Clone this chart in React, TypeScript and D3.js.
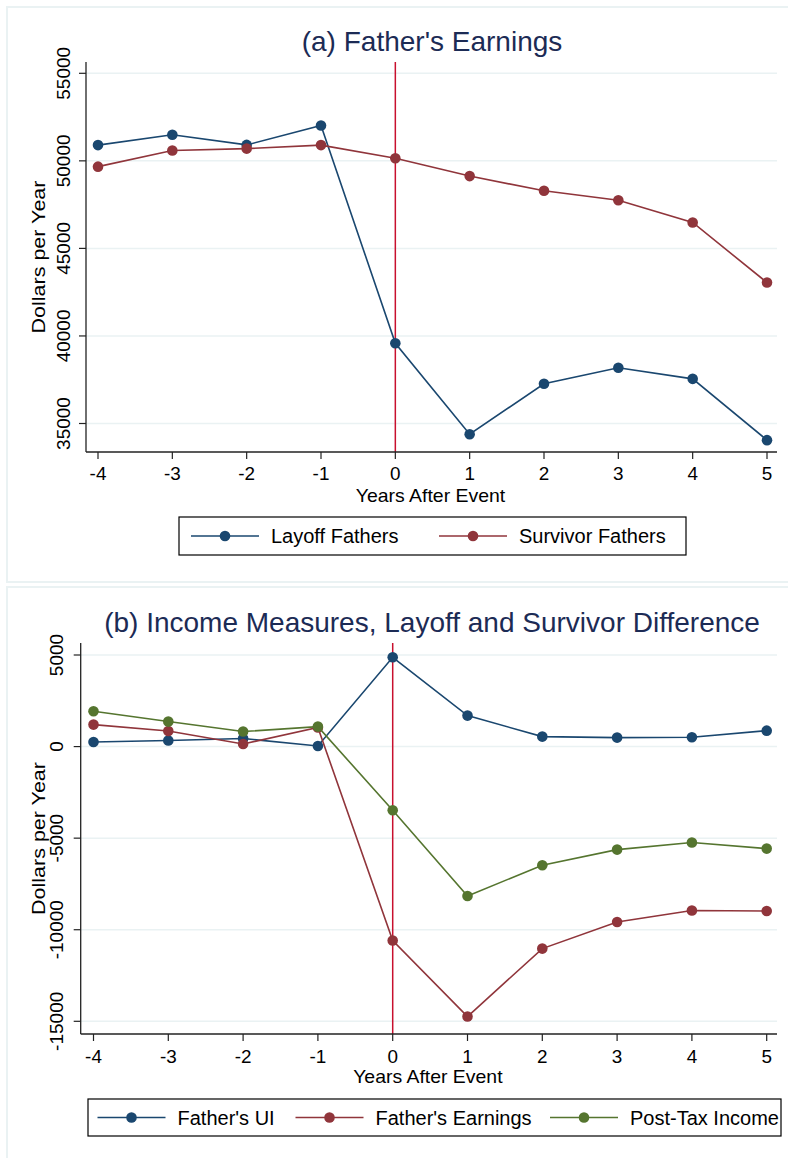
import React from 'react';
import * as d3 from 'd3';

// values
const years = [-4, -3, -2, -1, 0, 1, 2, 3, 4, 5];
const layoffFathers = [50900, 51490, 50910, 52020, 39580, 34390, 37270, 38180, 37550, 34050];
const survivorFathers = [49670, 50590, 50700, 50900, 50150, 49130, 48290, 47750, 46480, 43050];
const fathersUI = [250, 330, 440, 30, 4875, 1690, 545, 490, 510, 870];
const fathersEarnings = [1200, 850, 140, 1040, -10590, -14740, -11030, -9575, -8950, -8975];
const postTaxIncome = [1930, 1365, 820, 1090, -3480, -8155, -6480, -5625, -5240, -5570];
const topTicks = [35000, 40000, 45000, 50000, 55000];
const bottomTicks = [-15000, -10000, -5000, 0, 5000];
const eventYear = 0;

const NAVY = '#1a476f';
const MAROON = '#90353b';
const GREEN = '#55752f';
const FONT = '"Liberation Sans", Arial, Helvetica, sans-serif';

interface Series {
  name: string;
  values: number[];
  color: string;
}

interface PanelProps {
  title: string;
  titleY: number;
  series: Series[];
  ticks: number[];
  box: { top: number; bottom: number };
  plot: { left: number; right: number; top: number; bottom: number };
  xRange: [number, number];
  yDomain: [number, number];
  yRange: [number, number];
  yLabelX: number;
  xLabelY: number;
  xTitleY: number;
  legend: { x0: number; x1: number; y0: number; y1: number; items: number[] };
}

const Panel: React.FC<PanelProps> = (p) => {
  const x = d3.scaleLinear().domain([years[0], years[years.length - 1]]).range(p.xRange);
  const y = d3.scaleLinear().domain(p.yDomain).range(p.yRange);
  const line = d3.line<number>()
    .x((_, i) => x(years[i]))
    .y((d) => y(d));
  const midY = (p.plot.top + p.plot.bottom) / 2;
  const legendMid = (p.legend.y0 + p.legend.y1) / 2;

  return (
    <g>
      <rect x={7} y={p.box.top} width={800} height={p.box.bottom - p.box.top}
        fill="#fff" stroke="#eaf2f3" strokeWidth={2} />
      <text x={432} y={p.titleY} textAnchor="middle" fontSize={28} fill="#1c2b55" fontFamily={FONT}>
        {p.title}
      </text>

      {p.ticks.map((t) => (
        <line key={'g' + t} x1={p.plot.left} x2={p.plot.right} y1={y(t)} y2={y(t)}
          stroke="#eaf2f3" strokeWidth={1.5} />
      ))}

      <line x1={x(eventYear)} x2={x(eventYear)} y1={p.plot.top} y2={p.plot.bottom}
        stroke="#c8102e" strokeWidth={1.5} />

      {p.series.map((s) => (
        <g key={s.name}>
          <path d={line(s.values) || ''} fill="none" stroke={s.color} strokeWidth={1.6} />
          {s.values.map((v, i) => (
            <circle key={i} cx={x(years[i])} cy={y(v)} r={5.3} fill={s.color} />
          ))}
        </g>
      ))}

      <line x1={p.plot.left} x2={p.plot.left} y1={p.plot.top} y2={p.plot.bottom} stroke="#222" strokeWidth={1.3} />
      <line x1={p.plot.left} x2={p.plot.right} y1={p.plot.bottom} y2={p.plot.bottom} stroke="#222" strokeWidth={1.3} />

      {p.ticks.map((t) => (
        <g key={'t' + t}>
          <line x1={p.plot.left - 7} x2={p.plot.left} y1={y(t)} y2={y(t)} stroke="#222" strokeWidth={1.2} />
          <text transform={`translate(${p.yLabelX},${y(t)}) rotate(-90)`} textAnchor="middle"
            fontSize={19} fontFamily={FONT} fill="#000">
            {t}
          </text>
        </g>
      ))}
      <text transform={`translate(44.5,${midY}) rotate(-90) scale(1.15,1)`} textAnchor="middle"
        fontSize={18.7} fontFamily={FONT} fill="#000">
        Dollars per Year
      </text>

      {years.map((yr) => (
        <g key={'x' + yr}>
          <line x1={x(yr)} x2={x(yr)} y1={p.plot.bottom} y2={p.plot.bottom + 7} stroke="#222" strokeWidth={1.2} />
          <text transform={`translate(${x(yr)},${p.xLabelY}) scale(1.05,1)`} textAnchor="middle"
            fontSize={18} fontFamily={FONT} fill="#000">
            {yr}
          </text>
        </g>
      ))}
      <text transform={`translate(${(p.plot.left + p.plot.right) / 2 - 1},${p.xTitleY}) scale(1.08,1)`}
        textAnchor="middle" fontSize={18} fontFamily={FONT} fill="#000">
        Years After Event
      </text>

      <rect x={p.legend.x0} y={p.legend.y0} width={p.legend.x1 - p.legend.x0} height={p.legend.y1 - p.legend.y0}
        fill="#fff" stroke="#000" strokeWidth={1.2} />
      {p.series.map((s, i) => {
        const lx = p.legend.items[i];
        return (
          <g key={'l' + s.name}>
            <line x1={lx} x2={lx + 68} y1={legendMid} y2={legendMid} stroke={s.color} strokeWidth={1.6} />
            <circle cx={lx + 34} cy={legendMid} r={5.3} fill={s.color} />
            <text x={lx + 80} y={legendMid + 7} fontSize={20} fontFamily={FONT} fill="#000">{s.name}</text>
          </g>
        );
      })}
    </g>
  );
};

const App: React.FC = () => {
  const width = 788;
  const height = 1158;

  return (
    <svg width={width} height={height} style={{ position: 'absolute', left: 0, top: 0, background: '#fff' }}>
      <Panel
        title="(a) Father's Earnings"
        titleY={51}
        series={[
          { name: 'Layoff Fathers', values: layoffFathers, color: NAVY },
          { name: 'Survivor Fathers', values: survivorFathers, color: MAROON },
        ]}
        ticks={topTicks}
        box={{ top: 7, bottom: 582 }}
        plot={{ left: 86, right: 777, top: 62, bottom: 452 }}
        xRange={[98, 767]}
        yDomain={[35000, 55000]}
        yRange={[423.5, 73.3]}
        yLabelX={70}
        xLabelY={480}
        xTitleY={502}
        legend={{ x0: 179, x1: 686, y0: 517, y1: 555, items: [191, 439] }}
      />
      <Panel
        title="(b) Income Measures, Layoff and Survivor Difference"
        titleY={632}
        series={[
          { name: "Father's UI", values: fathersUI, color: NAVY },
          { name: "Father's Earnings", values: fathersEarnings, color: MAROON },
          { name: 'Post-Tax Income', values: postTaxIncome, color: GREEN },
        ]}
        ticks={bottomTicks}
        box={{ top: 587, bottom: 1170 }}
        plot={{ left: 80.7, right: 777, top: 643, bottom: 1034 }}
        xRange={[93.5, 766.7]}
        yDomain={[-15000, 5000]}
        yRange={[1021.3, 655]}
        yLabelX={63}
        xLabelY={1063}
        xTitleY={1083}
        legend={{ x0: 88, x1: 781, y0: 1099, y1: 1136, items: [97.5, 295.5, 550] }}
      />
    </svg>
  );
};

export default App;
